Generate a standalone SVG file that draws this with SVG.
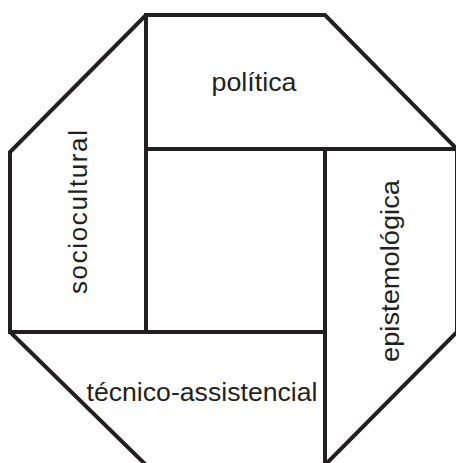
<svg xmlns="http://www.w3.org/2000/svg" width="456" height="463" viewBox="0 0 456 463">
<style>
.ln{fill:none;stroke:#231f20;stroke-width:4;stroke-linejoin:miter;stroke-linecap:square}
.lb{font-family:"Liberation Sans","Arial",sans-serif;font-size:26px;fill:#231f20;text-anchor:middle}
</style>
<rect width="456" height="463" fill="#fff"/>
<g id="connectors">
<polygon class="ln" points="146,15 325,15 457,149 457,332 325,465 146,465 10,332 10,152"/>
<line class="ln" x1="146" y1="15" x2="146" y2="332"/>
<line class="ln" x1="146" y1="149" x2="457" y2="149"/>
<line class="ln" x1="325" y1="149" x2="325" y2="465"/>
<line class="ln" x1="10" y1="332" x2="325" y2="332"/>
</g>
<g id="politica"><text class="lb" x="254" y="91" textLength="85" lengthAdjust="spacingAndGlyphs">política</text></g>
<g id="sociocultural"><text class="lb" transform="translate(87,212) rotate(-90)" x="0" y="0" textLength="164" lengthAdjust="spacing">sociocultural</text></g>
<g id="epistemologica"><text class="lb" transform="translate(399,271) rotate(-90)" x="0" y="0" textLength="182" lengthAdjust="spacingAndGlyphs">epistemológica</text></g>
<g id="tecnico"><text class="lb" x="202" y="401" textLength="231" lengthAdjust="spacingAndGlyphs">técnico-assistencial</text></g>
</svg>
